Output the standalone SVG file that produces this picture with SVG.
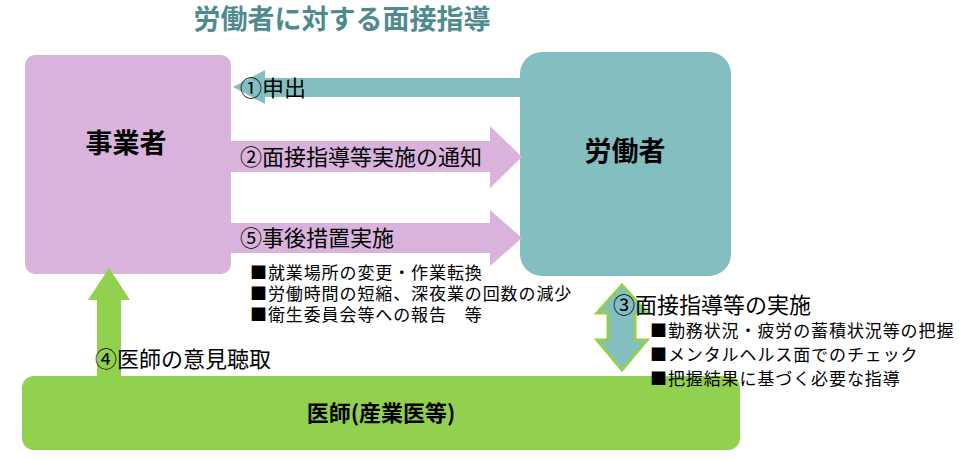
<svg xmlns="http://www.w3.org/2000/svg" width="959" height="460" viewBox="0 0 959 460">
<style>
text{font-family:"Noto Sans CJK JP","Noto Sans CJK SC",sans-serif;fill:#000}
.lbl{font-size:22px}
.sm{font-size:17px;letter-spacing:0.9px}
.big{font-size:27px;font-weight:bold}
</style>
<rect width="959" height="460" fill="#fff"/>
<text x="342" y="29" text-anchor="middle" style="font-size:27px;font-weight:bold;fill:#4f8a8f">労働者に対する面接指導</text>
<g id="jigyosha"><rect x="25" y="55" width="206" height="219" rx="10" fill="#d9b3dc"/><text class="big" x="126" y="153" text-anchor="middle">事業者</text></g>
<g id="rodosha"><rect x="520" y="52" width="211" height="224" rx="22" fill="#83bec1"/><text class="big" x="625" y="161" text-anchor="middle">労働者</text></g>
<g id="ishi"><rect x="22" y="376" width="718" height="74" rx="12" fill="#92d050"/><text x="381" y="421" text-anchor="middle" style="font-size:22px;font-weight:bold">医師(産業医等)</text></g>
<g id="connectors">
<polygon points="520,78 265,78 265,70 233,87 265,104 265,97 520,97" fill="#83bec1"/>
<polygon points="231,141 490,141 490,126 522,157 490,188 490,172 231,172" fill="#d9b3dc"/>
<polygon points="231,223 490,223 490,210 522,238 490,266 490,253 231,253" fill="#d9b3dc"/>
<polygon points="97,376 97,300 88,300 109,268 130,300 121,300 121,376" fill="#92d050"/>
<polygon points="608,340 608,313 597,313 622,285 647,313 635,313 635,340 647,340 622,370 597,340" fill="#83bec1" stroke="#92d050" stroke-width="3"/>
</g>
<text class="lbl" x="240" y="96">①申出</text>
<text class="lbl" x="240" y="165">②面接指導等実施の通知</text>
<text class="lbl" x="240" y="246">⑤事後措置実施</text>
<text class="sm" x="250" y="279">■就業場所の変更・作業転換</text>
<text class="sm" x="250" y="300">■労働時間の短縮、深夜業の回数の減少</text>
<text class="sm" x="250" y="321">■衛生委員会等への報告　等</text>
<text class="lbl" x="95" y="367">④医師の意見聴取</text>
<text class="lbl" x="613" y="313">③面接指導等の実施</text>
<text class="sm" x="650" y="337">■勤務状況・疲労の蓄積状況等の把握</text>
<text class="sm" x="650" y="361">■メンタルヘルス面でのチェック</text>
<text class="sm" x="650" y="385">■把握結果に基づく必要な指導</text>
</svg>
